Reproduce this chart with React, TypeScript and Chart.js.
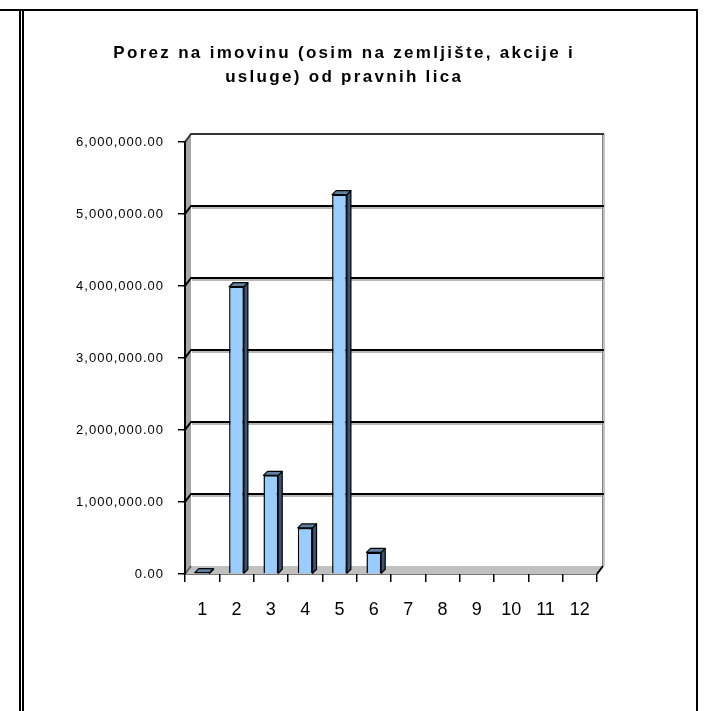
import React, { useEffect, useRef } from 'react';
import { Chart, registerables } from 'chart.js';

Chart.register(...registerables);

// ---------- data ----------
const CATEGORIES = ['1', '2', '3', '4', '5', '6', '7', '8', '9', '10', '11', '12'];
const VALUES: (number | null)[] = [20000, 3990000, 1370000, 640000, 5270000, 300000, null, null, null, null, null, null];
const Y_MIN = 0;
const Y_MAX = 6000000;
const Y_STEP = 1000000;
const TITLE_LINES = ['Porez na imovinu (osim na zemljište, akcije i', 'usluge) od pravnih lica'];

const FONT = '"Liberation Sans", Arial, Helvetica, sans-serif';

function fmt(v: number): string {
  const s = Math.round(v).toString().replace(/\B(?=(\d{3})+(?!\d))/g, ',');
  return s + '.00';
}

function poly(ctx: CanvasRenderingContext2D, pts: number[][]) {
  ctx.beginPath();
  ctx.moveTo(pts[0][0], pts[0][1]);
  for (let i = 1; i < pts.length; i++) ctx.lineTo(pts[i][0], pts[i][1]);
  ctx.closePath();
}

const threeD = {
  id: 'threeD',
  beforeDraw(chart: any) {
    const { ctx, chartArea: ca, scales } = chart;
    const ys = scales.y;
    const L = ca.left, R = ca.right, T = ca.top, B = ca.bottom;
    const dx = 6, dy = -8;
    ctx.save();
    ctx.fillStyle = '#ffffff';
    ctx.fillRect(0, 0, chart.width, chart.height);
    // left side wall
    ctx.fillStyle = '#a6a6a6';
    poly(ctx, [[L, T], [L + dx, T + dy], [L + dx, B + dy], [L, B]]);
    ctx.fill();
    // floor
    ctx.fillStyle = '#c0c0c0';
    poly(ctx, [[L, B], [R, B], [R + dx, B + dy], [L + dx, B + dy]]);
    ctx.fill();
    // right wall edge
    ctx.fillStyle = '#c4c4c4';
    ctx.fillRect(R + dx - 1, T + dy, 3, B - T);
    ctx.strokeStyle = '#808080';
    ctx.lineWidth = 1;
    ctx.beginPath();
    ctx.moveTo(R + dx - 0.5, T + dy);
    ctx.lineTo(R + dx - 0.5, B + dy);
    ctx.stroke();
    // gridlines on back wall
    ys.ticks.forEach((t: any) => {
      const v = t.value;
      if (v <= Y_MIN) return;
      const py = ys.getPixelForValue(v);
      if (v < Y_MAX) {
        ctx.strokeStyle = '#b8b8b8';
        ctx.lineWidth = 2;
        ctx.beginPath();
        ctx.moveTo(L + dx + 1, py + dy + 2);
        ctx.lineTo(R + dx - 1, py + dy + 2);
        ctx.stroke();
      }
      ctx.strokeStyle = v >= Y_MAX ? '#333333' : '#000000';
      ctx.lineWidth = 2;
      ctx.beginPath();
      ctx.moveTo(L, py);
      ctx.lineTo(L + dx, py + dy);
      ctx.lineTo(R + dx + 1, py + dy);
      ctx.stroke();
    });
    // floor edges
    ctx.strokeStyle = '#555555';
    ctx.lineWidth = 1.5;
    ctx.beginPath();
    ctx.moveTo(L, B);
    ctx.lineTo(L + dx, B + dy);
    ctx.stroke();
    ctx.strokeStyle = '#000000';
    ctx.lineWidth = 2;
    ctx.beginPath();
    ctx.moveTo(R, B);
    ctx.lineTo(R + dx, B + dy);
    ctx.stroke();
    ctx.strokeStyle = '#7a7a7a';
    ctx.lineWidth = 1;
    ctx.beginPath();
    ctx.moveTo(L, B + 0.5);
    ctx.lineTo(R, B + 0.5);
    ctx.stroke();
    ctx.restore();
  },
  afterDatasetsDraw(chart: any) {
    const { ctx } = chart;
    const meta = chart.getDatasetMeta(0);
    const bdx = 4, bdy = -4;
    ctx.save();
    ctx.strokeStyle = '#000000';
    ctx.lineWidth = 1.2;
    ctx.lineJoin = 'round';
    meta.data.forEach((el: any, i: number) => {
      const v = chart.data.datasets[0].data[i];
      if (v == null || v <= 0) return;
      const p = el.getProps(['x', 'y', 'base', 'width'], true);
      const l = p.x - p.width / 2;
      const r = p.x + p.width / 2;
      // side face
      ctx.fillStyle = '#3a5573';
      poly(ctx, [[r, p.y], [r + bdx, p.y + bdy], [r + bdx, p.base + bdy], [r, p.base]]);
      ctx.fill();
      ctx.stroke();
      // top face
      ctx.fillStyle = '#5e80a3';
      poly(ctx, [[l, p.y], [l + bdx, p.y + bdy], [r + bdx, p.y + bdy], [r, p.y]]);
      ctx.fill();
      ctx.stroke();
    });
    ctx.restore();
    (ctx as any).letterSpacing = '1px';
  },
  afterDraw(chart: any) {
    const { ctx } = chart;
    (ctx as any).letterSpacing = '0px';
    ctx.save();
    ctx.font = 'bold 17px ' + FONT;
    ctx.fillStyle = '#000000';
    ctx.textBaseline = 'alphabetic';
    ctx.textAlign = 'left';
    const sp = 2.3;
    const cx = 343;
    TITLE_LINES.forEach((line, i) => {
      const chars = Array.from(line);
      const widths = chars.map((c) => ctx.measureText(c).width);
      const total = widths.reduce((a, b) => a + b, 0) + sp * (chars.length - 1);
      let x = cx - total / 2;
      const yb = 58 + i * 24;
      chars.forEach((c, j) => {
        ctx.fillText(c, x, yb);
        x += widths[j] + sp;
      });
    });
    ctx.restore();
  },
};

export default function App() {
  const ref = useRef<HTMLCanvasElement>(null);
  useEffect(() => {
    if (!ref.current) return;
    const chart = new Chart(ref.current, {
      type: 'bar',
      data: {
        labels: CATEGORIES,
        datasets: [
          {
            data: VALUES as any,
            backgroundColor: '#99ccff',
            borderColor: '#000000',
            borderWidth: 1.5,
            barPercentage: 0.43,
            categoryPercentage: 1,
          },
        ],
      },
      options: {
        responsive: false,
        animation: false,
        devicePixelRatio: 1,
        layout: { padding: { top: 142, right: 107, bottom: 0, left: 0 } },
        plugins: {
          legend: { display: false },
          title: { display: false },
          tooltip: { enabled: false },
        },
        scales: {
          x: {
            grid: {
              display: true,
              drawOnChartArea: false,
              drawTicks: true,
              tickLength: 8,
              color: '#000000',
              lineWidth: 1.5,
              offset: true,
            },
            border: { display: false },
            ticks: {
              font: { family: FONT, size: 18 },
              color: '#000000',
              padding: 17,
              maxRotation: 0,
              autoSkip: false,
            },
            afterFit: (s: any) => {
              s.height = 137;
            },
          },
          y: {
            min: Y_MIN,
            max: Y_MAX,
            ticks: {
              stepSize: Y_STEP,
              font: { family: FONT, size: 13 },
              color: '#000000',
              padding: 14,
              z: 1,
              callback: (v: any) => fmt(Number(v)),
            },
            grid: {
              display: true,
              drawOnChartArea: false,
              drawTicks: true,
              tickLength: 7,
              color: '#000000',
              lineWidth: 1.5,
            },
            border: { display: true, color: '#000000', width: 2 },
            afterFit: (s: any) => {
              s.width = 185;
            },
          },
        },
      },
      plugins: [threeD],
    } as any);
    return () => chart.destroy();
  }, []);

  const line = (l: number, t: number, w: number, h: number) => (
    <div style={{ position: 'absolute', left: l, top: t, width: w, height: h, background: '#000' }} />
  );

  return (
    <div style={{ position: 'fixed', left: 0, top: 0, width: 704, height: 711, background: '#fff', overflow: 'hidden' }}>
      <canvas
        ref={ref}
        width={704}
        height={711}
        style={{ position: 'absolute', left: 0, top: 0, width: 704, height: 711 }}
      />
      {line(0, 9, 698, 2)}
      {line(19, 9, 2, 702)}
      {line(22, 9, 2, 702)}
      {line(696, 9, 2, 702)}
    </div>
  );
}
